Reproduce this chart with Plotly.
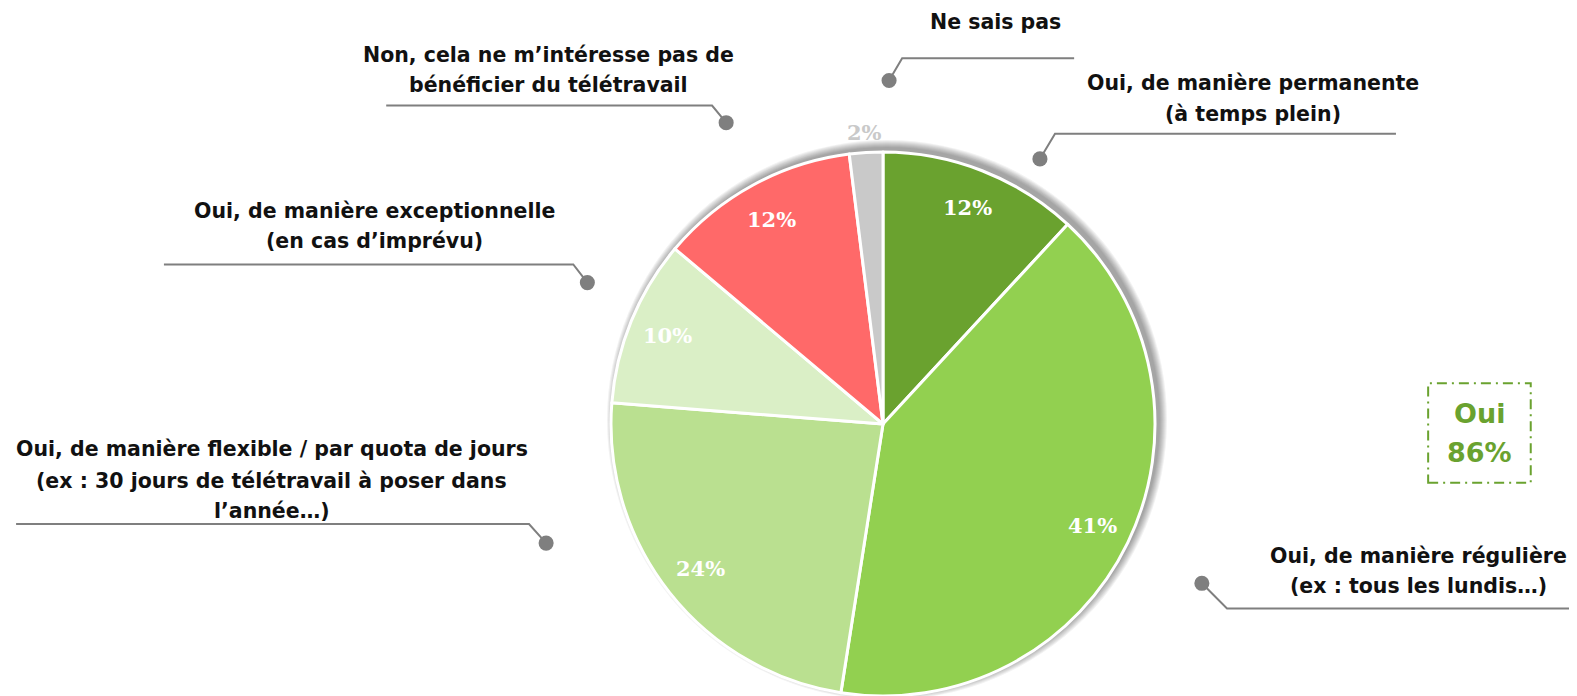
import math
import plotly.graph_objects as go

# ---------------- data ----------------
categories = [
    "Oui, de manière permanente (à temps plein)",
    "Oui, de manière régulière (ex : tous les lundis…)",
    "Oui, de manière flexible / par quota de jours (ex : 30 jours de télétravail à poser dans l’année…)",
    "Oui, de manière exceptionnelle (en cas d’imprévu)",
    "Non, cela ne m’intéresse pas de bénéficier du télétravail",
    "Ne sais pas",
]
values = [12, 41, 24, 10, 12, 2]
slice_colors = ["#6AA22F", "#92D050", "#BAE090", "#DAEFC6", "#FF6969", "#C9C9C9"]
label_lines = [
    ["Oui, de manière permanente", "(à temps plein)"],
    ["Oui, de manière régulière", "(ex : tous les lundis…)"],
    ["Oui, de manière flexible / par quota de jours",
     "(ex : 30 jours de télétravail à poser dans", "l’année…)"],
    ["Oui, de manière exceptionnelle", "(en cas d’imprévu)"],
    ["Non, cela ne m’intéresse pas de", "bénéficier du télétravail"],
    ["Ne sais pas"],
]
summary_label = "Oui"
summary_value = "86%"

# ---------------- layout helpers ----------------
OFF = 8                      # page body margin
W, H = 1577 - OFF, 696 - OFF  # figure size
S = 1577 / 1568              # reference measured on shrunk image


def fpx(x, y):
    """full-window pixel -> paper coords"""
    return (x - OFF) / W, 1 - (y - OFF) / H


def px(x, y):
    """shrunk-reference pixel -> paper coords"""
    return fpx(x * S, y * S)


CX, CY, R = 883.0, 424.0, 272.0

fig = go.Figure()

# soft shadow behind pie (light from lower-left)
shapes = []
for i in range(1, 9):
    rr = R + i
    dx, dy = 4, -4
    x0, y0 = fpx(CX + dx - rr, CY + dy - rr)
    x1, y1 = fpx(CX + dx + rr, CY + dy + rr)
    shapes.append(dict(type="circle", xref="paper", yref="paper", x0=x0, x1=x1,
                       y0=y1, y1=y0, fillcolor="rgba(0,0,0,0.05)",
                       line=dict(width=0), layer="below"))

px0, py0 = fpx(CX - R, CY + R)
px1, py1 = fpx(CX + R, CY - R)
fig.add_trace(go.Pie(
    values=values,
    labels=categories,
    sort=False,
    direction="clockwise",
    rotation=0,
    marker=dict(colors=slice_colors, line=dict(color="white", width=3)),
    textinfo="none",
    hoverinfo="label+percent",
    showlegend=False,
    domain=dict(x=[max(0.0, px0), min(1.0, px1)],
                y=[max(0.0, py0), min(1.0, py1)]),
))

annotations = []

# percentage labels, placed from the data angles
total = sum(values)
cum = 0.0
for i, v in enumerate(values):
    mid = (cum + v / 2) / total * 2 * math.pi
    cum += v
    outside = v < 5
    k = 1.075 if outside else 0.855
    x = CX + k * R * math.sin(mid)
    y = CY - k * R * math.cos(mid)
    ax, ay = fpx(x, y)
    annotations.append(dict(
        x=ax, y=ay, xref="paper", yref="paper", showarrow=False,
        text=f"<b>{v}%</b>", xanchor="center", yanchor="middle",
        font=dict(family="DejaVu Serif", size=21,
                  color="#C9C9C9" if outside else "white"),
    ))

# callout label positions (shrunk-reference px): line centre x, line y's, leader path (ends at dot)
callouts = [
    dict(cx=1246, ys=[83, 113], path=[(1388, 133), (1049, 133), (1034, 158)]),
    dict(cx=1410, ys=[553, 583], path=[(1568, 605), (1220, 605), (1195, 580)]),
    dict(cx=270, ys=[446, 478, 508], path=[(16, 521), (526, 521), (543, 540)]),
    dict(cx=372, ys=[210, 240], path=[(163, 263), (570, 263), (584, 281)]),
    dict(cx=545, ys=[55, 85], path=[(384, 105), (708, 105), (722, 122)]),
    dict(cx=990, ys=[22], path=[(1068, 58), (897, 58), (884, 80)]),
]

for lines, c in zip(label_lines, callouts):
    for t, yy in zip(lines, c["ys"]):
        ax, ay = px(c["cx"], yy)
        annotations.append(dict(
            x=ax, y=ay, xref="paper", yref="paper", showarrow=False,
            text=f"<b>{t}</b>", xanchor="center", yanchor="middle",
            font=dict(family="DejaVu Sans", size=20.5, color="#111111"),
        ))
    pts = [px(*p) for p in c["path"]]
    d = "M " + " L ".join(f"{p[0]},{p[1]}" for p in pts)
    shapes.append(dict(type="path", xref="paper", yref="paper", path=d,
                       line=dict(color="#7F7F7F", width=2)))
    dx_, dy_ = c["path"][-1]
    r = 7.5
    x0, y0 = px(dx_ - r, dy_ - r)
    x1, y1 = px(dx_ + r, dy_ + r)
    shapes.append(dict(type="circle", xref="paper", yref="paper",
                       x0=x0, x1=x1, y0=y1, y1=y0,
                       fillcolor="#7F7F7F", line=dict(width=0)))

# summary box
bx0, by0 = px(1420, 381)
bx1, by1 = px(1522, 480)
shapes.append(dict(type="rect", xref="paper", yref="paper",
                   x0=bx0, x1=bx1, y0=by1, y1=by0,
                   line=dict(color="#6AA22F", width=2, dash="10px,5px,2px,5px")))
for t, yy in [(summary_label, 411), (summary_value, 450)]:
    ax, ay = px(1471, yy)
    annotations.append(dict(
        x=ax, y=ay, xref="paper", yref="paper", showarrow=False,
        text=f"<b>{t}</b>", xanchor="center", yanchor="middle",
        font=dict(family="DejaVu Sans", size=27, color="#6AA22F"),
    ))

fig.update_layout(
    width=W, height=H,
    margin=dict(l=0, r=0, t=0, b=0),
    paper_bgcolor="white", plot_bgcolor="white",
    shapes=shapes, annotations=annotations,
)

fig.write_html("out.html")
